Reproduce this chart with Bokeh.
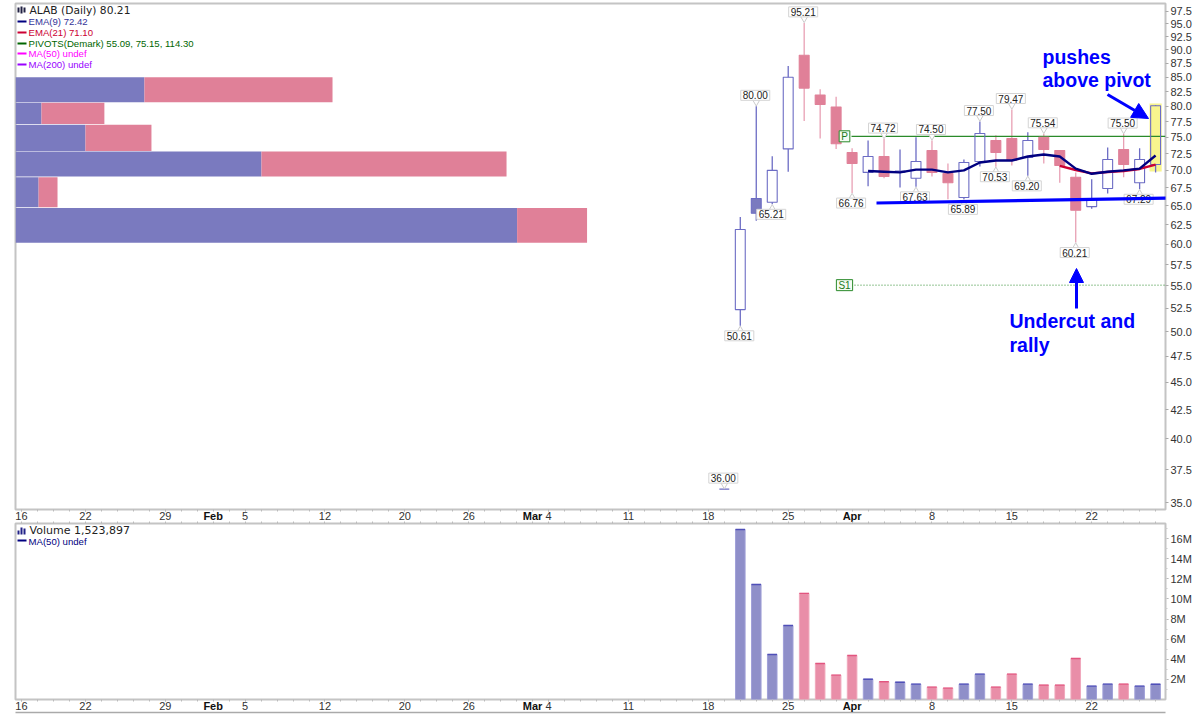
import math
from bokeh.plotting import figure
from bokeh.layouts import column
from bokeh.models import (ColumnDataSource, FixedTicker, Label, Arrow, NormalHead,
                          NumeralTickFormatter, LinearAxis, Range1d)
from bokeh.embed import file_html
from bokeh.resources import INLINE

# ---- data ----
idx    = [44,45,46,47,48,49,50,51,52,53,54,55,56,57,58,59,60,61,62,63,64,65,66,67,68,69,70,71]
opens  = [36.0,52.35,64.0,65.5,73.2,89.0,81.9,79.9,72.65,69.7,72.05,69.7,68.85,72.95,69.55,66.15,71.3,74.5,74.8,71.9,75.0,72.95,69.0,64.9,67.4,73.1,68.2,70.85]
closes = [36.0,61.87,66.0,70.0,85.0,83.1,80.3,74.0,71.0,72.05,69.1,69.9,71.3,69.7,68.2,71.15,75.6,72.65,71.45,74.5,73.1,70.7,64.4,66.0,71.6,70.85,71.6,80.1]
highs  = [36.0,63.5,80.0,72.1,87.0,95.21,82.9,81.6,73.3,74.5,74.72,73.1,75.0,74.5,71.0,71.6,77.5,75.3,79.47,75.8,75.54,73.0,69.7,68.7,73.4,75.5,73.3,80.21]
lows   = [36.0,50.61,63.0,65.21,69.8,77.6,74.8,73.2,66.76,67.7,68.85,67.55,67.63,69.1,65.9,65.89,70.55,70.53,70.7,69.2,71.0,68.2,60.21,64.6,66.7,69.0,67.29,69.7]
kinds  = ["up","up","solid","up","up","dn","dn","dn","dn","up","dn","up","up","dn","dn","up","up","dn","dn","up","dn","dn","dn","up","up","dn","up","up"]

ema9_idx = [53,54,55,56,57,58,59,60,61,62,63,64,65,66,67,68,69,70,71]
ema9  = [69.9,69.8,69.7,70.1,70.1,69.7,70.0,71.15,71.45,71.45,72.05,72.35,72.05,70.25,69.5,69.8,70.0,70.25,72.2]
ema21_idx = [65,66,67,68,69,70,71]
ema21 = [70.65,70.05,69.55,69.75,69.9,70.2,70.85]
pivot_p, pivot_s1 = 75.15, 55.09

high_label_idx = [44,46,49,54,57,60,62,64,69]
high_label_val = [36.00,80.00,95.21,74.72,74.50,77.50,79.47,75.54,75.50]
low_label_idx  = [45,47,52,56,59,61,63,66,70]
low_label_val  = [50.61,65.21,66.76,67.63,65.89,70.53,69.20,60.21,67.29]

vbp_edges_top = [85.0,80.6,77.0,72.8,69.0,64.7]
vbp_edges_bot = [80.7,77.1,72.9,69.1,64.8,60.2]
vbp_up   = [5.86,1.18,3.18,11.18,1.05,22.8]
vbp_down = [8.55,2.86,3.00,11.14,0.86,3.18]

vol_idx = list(range(45,72))
volumes = [16.9,11.44,4.48,7.36,10.55,3.58,2.42,4.38,2.02,1.76,1.72,1.53,1.23,1.13,1.53,2.52,1.23,2.52,1.53,1.43,1.43,4.08,1.33,1.53,1.53,1.33,1.52]
vol_up  = [1,1,1,1,0,0,0,0,1,0,1,1,0,0,1,1,0,0,1,0,0,0,1,1,0,1,1]

date_ticks  = [0,4,9,14,19,24,28,33,38,43,48,57,62,67]
date_labels = ["16","22","29","5","12","20","26","4","11","18","25","8","15","22"]
month_ticks = [12,32,52]
month_names = ["Feb","Mar","Apr"]

price_ticks = [97.5,95,92.5,90,87.5,85,82.5,80,77.5,75,72.5,70,67.5,65,62.5,60,57.5,55,52.5,50,47.5,45,42.5,40,37.5,35]
vol_ticks = [2,4,6,8,10,12,14,16]
vol_tick_labels = ["2M","4M","6M","8M","10M","12M","14M","16M"]

# ---- geometry ----
FL, FR = 15, 1165
XL, XR = -0.375, 71.62
YTOP_PX, YBOT_PX = 3, 509
YHI, YLO = 99.14, 34.5
VBOT_PX, VTOP_PX = 699, 523
VHI = 17.5
def ax(px): return XL + (px - FL) / (FR - FL) * (XR - XL)
def ay(px): return YHI * math.exp((px - YTOP_PX) / (YBOT_PX - YTOP_PX) * math.log(YLO / YHI))
def vy(px): return (VBOT_PX - px) / (VBOT_PX - VTOP_PX) * VHI

BLUE, PINK = "#7a7abf", "#e08098"
BLUE_L, PINK_L = "#6c6cc4", "#e8a0b4"
SANS = "Liberation Sans"
TICKC = "#333333"

all_idx = list(range(0, 72))

def style(p):
    p.outline_line_color = "#c4c4c4"
    p.outline_line_width = 2
    p.grid.visible = False
    p.background_fill_color = "white"
    p.border_fill_color = None
    p.min_border_left = FL
    p.min_border_right = 1200 - FR

def style_xaxis(a):
    a.ticker = FixedTicker(ticks=date_ticks, minor_ticks=all_idx)
    a.major_label_overrides = {t: l for t, l in zip(date_ticks, date_labels)}
    a.major_label_text_font = SANS
    a.major_label_text_font_size = "11px"
    a.major_label_text_color = TICKC
    a.major_label_standoff = 0
    a.major_tick_in = 0; a.major_tick_out = 2
    a.minor_tick_in = 0; a.minor_tick_out = 2
    a.major_tick_line_color = "#bbbbbb"; a.minor_tick_line_color = "#bbbbbb"
    a.axis_line_color = None

def month_axis(line_color=None):
    # bold month names: stacked below the date axis and pulled back up into its row
    a = LinearAxis(ticker=FixedTicker(ticks=month_ticks),
                   major_label_overrides={t: n for t, n in zip(month_ticks, month_names)})
    a.major_label_text_font = SANS
    a.major_label_text_font_size = "11px"
    a.major_label_text_font_style = "bold"
    a.major_label_text_color = "#111111"
    a.major_label_standoff = -19
    a.major_tick_line_color = None
    a.minor_tick_line_color = None
    a.axis_line_color = line_color
    a.axis_line_width = 1.5
    return a

def style_yaxis(a):
    a.major_label_text_font = SANS
    a.major_label_text_font_size = "11px"
    a.major_label_text_color = TICKC
    a.major_label_standoff = 2
    a.major_tick_in = 0; a.major_tick_out = 3
    a.minor_tick_in = 0; a.minor_tick_out = 2
    a.major_tick_line_color = "#aaaaaa"; a.minor_tick_line_color = "#cccccc"
    a.axis_line_color = None

# ---- price panel ----
p = figure(width=1200, height=526, x_range=(XL, XR), y_range=(YLO, YHI), y_axis_type="log",
           y_axis_location="right", output_backend="svg", toolbar_location=None)
style(p)
p.min_border_top = YTOP_PX
p.min_border_bottom = 526 - YBOT_PX
style_xaxis(p.xaxis[0])
p.add_layout(month_axis(), "below")
ya = p.yaxis[0]
ya.ticker = FixedTicker(ticks=price_ticks)
ya.formatter = NumeralTickFormatter(format="0.0")
style_yaxis(ya)

# volume-by-price, on its own horizontal scale
VBP_MAX = (FR - FL) / 22.0
p.extra_x_ranges = {"vbp": Range1d(0, VBP_MAX)}
p.quad(left=[0]*6, right=vbp_up, top=vbp_edges_top, bottom=vbp_edges_bot,
       x_range_name="vbp", fill_color=BLUE, line_color=None)
p.quad(left=vbp_up, right=[a+b for a, b in zip(vbp_up, vbp_down)], top=vbp_edges_top, bottom=vbp_edges_bot,
       x_range_name="vbp", fill_color=PINK, line_color=None)

# yellow highlight on last candle
p.quad(left=[71-0.38], right=[71+0.38], top=[ay(103)], bottom=[ay(171)], fill_color="#f8f48e", line_color=None)

wick_col = [PINK_L if k == "dn" else BLUE_L for k in kinds]
fill_col = [PINK if k == "dn" else (BLUE if k == "solid" else "white") for k in kinds]
fill_a   = [0.0 if k == "up" else 1.0 for k in kinds]
edge_col = [PINK if k == "dn" else BLUE_L for k in kinds]
src = ColumnDataSource(dict(x=idx, o=opens, c=closes, h=highs, l=lows, w=wick_col, f=fill_col, e=edge_col, fa=fill_a,
                            bt=[max(a, b) for a, b in zip(opens, closes)], bb=[min(a, b) for a, b in zip(opens, closes)]))
p.segment(x0="x", x1="x", y0="h", y1="bt", source=src, line_color="w", line_width=1.3)
p.segment(x0="x", x1="x", y0="bb", y1="l", source=src, line_color="w", line_width=1.3)

# pivots
p.line([ax(851), XR], [pivot_p, pivot_p], line_color="#2a8a2a", line_width=1.3)
p.line([ax(851), XR], [pivot_s1, pivot_s1], line_color="#2a8a2a", line_width=1, line_dash=[1, 2])

p.vbar(x="x", top="bt", bottom="bb", width=0.62, source=src, fill_color="f", fill_alpha="fa", line_color="e", line_width=1.1)

# EMAs
p.line(ema21_idx, ema21, line_color="#cc0033", line_width=2.4)
p.line(ema9_idx, ema9, line_color="#000080", line_width=2.4)

for txt, val in (("P", pivot_p), ("S1", pivot_s1)):
    p.add_layout(Label(x=ax(844), y=val, text=txt, text_font=SANS, text_font_size="10px", text_color="#1c7a1c",
                       text_align="center", text_baseline="middle", background_fill_color="#f4fbf4",
                       border_line_color="#2a8a2a", border_line_width=1, padding=(2, 0)))

# high / low callouts
p.scatter(high_label_idx, [v*1.009 for v in high_label_val], marker="inverted_triangle", size=7,
          fill_color="white", line_color="#cccccc")
p.scatter(low_label_idx, [v/1.009 for v in low_label_val], marker="triangle", size=7,
          fill_color="white", line_color="#cccccc")
def callout(i, val, off):
    p.add_layout(Label(x=i, y=val, text=f"{val:.2f}", x_offset=-1, y_offset=off, text_font=SANS,
                       text_font_size="10px", text_color="#222222", text_align="center", text_baseline="middle",
                       background_fill_color="white", border_line_color="#d4d4d4", border_line_width=1,
                       padding=(2, 1)))
for i, val in zip(high_label_idx, high_label_val):
    callout(i, val, 11)
for i, val in zip(low_label_idx, low_label_val):
    callout(i, val, -10)

# trend line + annotations
BLUEINK = "#0000ff"
p.add_layout(Arrow(end=None, x_start=ax(876), y_start=ay(202.5), x_end=ax(1169), y_end=ay(197.5),
                   line_color=BLUEINK, line_width=3.2))
p.add_layout(Arrow(end=NormalHead(size=16, fill_color=BLUEINK, line_color=BLUEINK), x_start=ax(1107), y_start=ay(94),
                   x_end=ax(1148), y_end=ay(118), line_color=BLUEINK, line_width=3))
p.add_layout(Arrow(end=NormalHead(size=14, fill_color=BLUEINK, line_color=BLUEINK), x_start=ax(1076), y_start=ay(308),
                   x_end=ax(1076), y_end=ay(268), line_color=BLUEINK, line_width=3))
for txt, px, py in (("pushes", 1042, 56), ("above pivot", 1042, 79), ("Undercut and", 1009, 320), ("rally", 1009, 344)):
    p.add_layout(Label(x=ax(px), y=ay(py), text=txt, text_font=SANS, text_font_style="bold", text_font_size="19.5px",
                       text_color=BLUEINK, text_baseline="middle", text_align="left"))

# legend block
legend = [("EMA(9) 72.42", "#333399", "#000080", 21), ("EMA(21) 71.10", "#cc0033", "#cc0033", 32),
          ("PIVOTS(Demark) 55.09, 75.15, 114.30", "#006600", "#006600", 43),
          ("MA(50) undef", "#ff00ff", "#ff00ff", 53), ("MA(200) undef", "#9900ff", "#9900ff", 64)]
for txt, tc, lc, py in legend:
    p.line([ax(17), ax(26)], [ay(py), ay(py)], line_color=lc, line_width=1.8)
    p.add_layout(Label(x=ax(28), y=ay(py), text=txt, text_font=SANS, text_font_size="9.6px",
                       text_color=tc, text_baseline="middle"))
p.add_layout(Label(x=ax(29), y=ay(10), text="ALAB (Daily) 80.21", text_font="DejaVu Sans", text_font_size="10.7px",
                   text_color="#222222", text_baseline="middle"))
for bx, t, b in ((18, 7, 12), (21, 6, 13), (24, 7, 12)):
    p.line([ax(bx), ax(bx)], [ay(t), ay(b)], line_color="#222244", line_width=2)

# ---- volume panel ----
v = figure(width=1200, height=195, x_range=p.x_range, y_range=(0, VHI), y_axis_location="right",
           output_backend="svg", toolbar_location=None, margin=(-5, 0, 0, 0))
style(v)
v.min_border_top = 2
v.min_border_bottom = 716 - VBOT_PX
style_xaxis(v.xaxis[0])
v.add_layout(month_axis("#aaaaaa"), "below")
top_ticks = LinearAxis(ticker=FixedTicker(ticks=[], minor_ticks=all_idx), major_label_text_font_size="0px",
                       major_label_standoff=0, major_tick_in=0, major_tick_out=0, minor_tick_in=0, minor_tick_out=2,
                       minor_tick_line_color="#bbbbbb", axis_line_color=None)
v.add_layout(top_ticks, "above")
vya = v.yaxis[0]
vya.ticker = FixedTicker(ticks=vol_ticks, minor_ticks=list(range(1, 18)))
vya.major_label_overrides = {t: l for t, l in zip(vol_ticks, vol_tick_labels)}
style_yaxis(vya)

vfill = ["#8f8fc9" if u else "#e98ea8" for u in vol_up]
vedge = ["#a0a0d8" if u else "#f0a8bc" for u in vol_up]
vtop  = ["#4f4fb8" if u else "#e2557f" for u in vol_up]
vs = ColumnDataSource(dict(x=vol_idx, t=volumes, f=vfill, e=vedge, c=vtop,
                           a=[i-0.3 for i in vol_idx], b=[i+0.3 for i in vol_idx]))
v.vbar(x="x", top="t", bottom=0, width=0.6, source=vs, fill_color="f", line_color="e", line_width=1)
v.segment(x0="a", x1="b", y0="t", y1="t", source=vs, line_color="c", line_width=1.4)

v.add_layout(Label(x=ax(29), y=vy(530), text="Volume 1,523,897", text_font="DejaVu Sans", text_font_size="11px",
                   text_color="#222222", text_baseline="middle"))
v.add_layout(Label(x=ax(28), y=vy(541), text="MA(50) undef", text_font=SANS, text_font_size="9.6px",
                   text_color="#000080", text_baseline="middle"))
v.line([ax(17), ax(26)], [vy(540), vy(540)], line_color="#000080", line_width=1.8)
for bx, t in ((18, 530), (21, 527), (24, 528)):
    v.line([ax(bx), ax(bx)], [vy(t), vy(534)], line_color="#222288", line_width=2)

layout = column(p, v, spacing=0)
open("out.html", "w").write(file_html(layout, INLINE))
